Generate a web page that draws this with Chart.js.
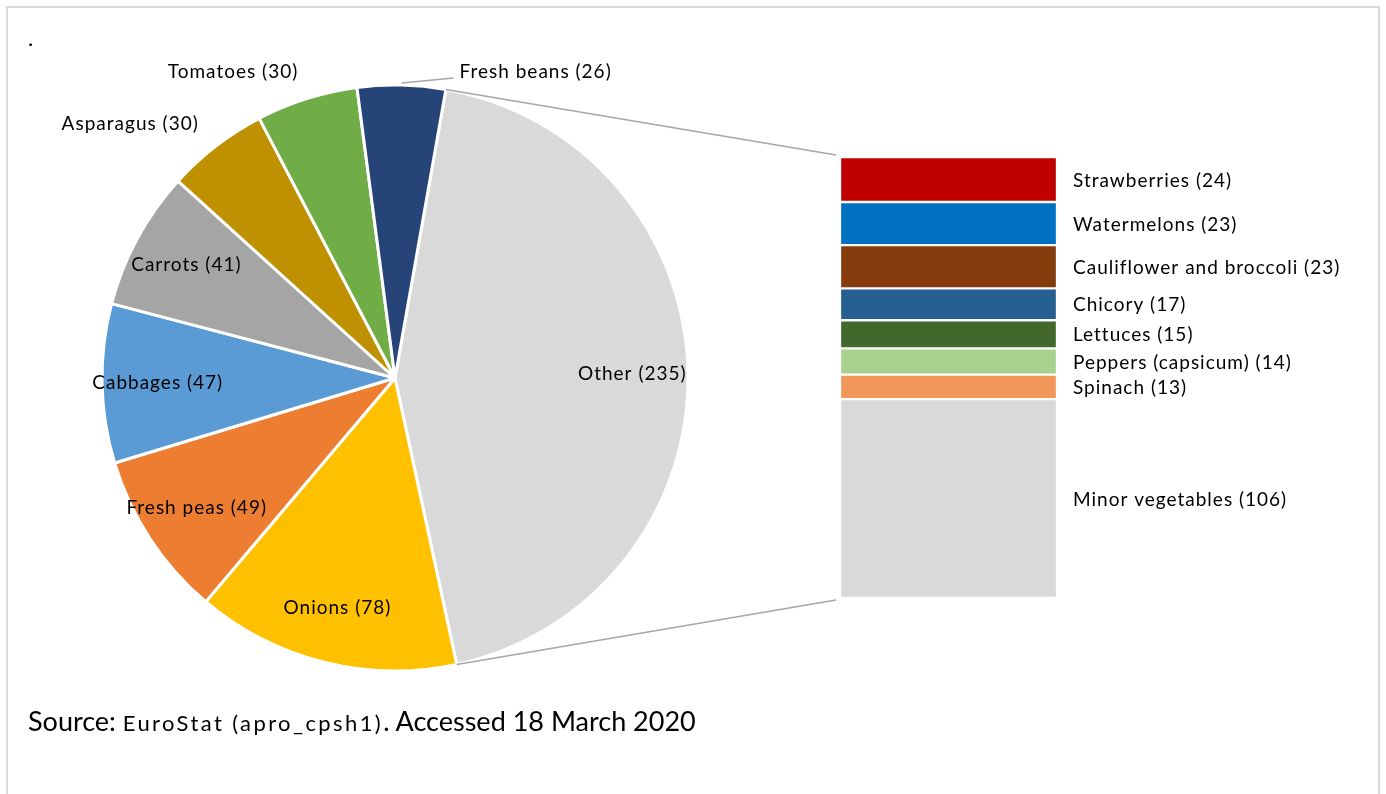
<!DOCTYPE html>
<html>
<head>
<meta charset="utf-8">
<script src="https://cdn.jsdelivr.net/npm/chart.js@4.4.0/dist/chart.umd.min.js"></script>
<style>
  body { margin: 0; background: #fff; font-family: Lato, sans-serif; }
  #wrap { position: relative; width: 1386px; height: 794px; overflow: hidden; }
  #frame { position: absolute; left: 6px; top: 6px; width: 1374px; height: 820px; border: 2px solid #d9d9d9; box-sizing: border-box; }
  canvas { position: absolute; left: 0; top: 0; }
  #dot { position: absolute; left: 28px; top: 24px; font-size: 22px; color: #000; }
  #source { position: absolute; left: 28px; top: 704px; font-size: 27px; color: #000; white-space: nowrap; }
  #source .small { font-size: 22px; letter-spacing: 2.4px; }
</style>
</head>
<body>
<div id="wrap">
  <div id="frame"></div>
  <canvas id="pie" width="1386" height="794"></canvas>
  <canvas id="bar" width="1386" height="794"></canvas>
  <div id="dot">.</div>
  <div id="source">Source: <span class="small">EuroStat (apro_cpsh1)</span>. Accessed 18 March 2020</div>
</div>
<script>
// pie, clockwise from the top
const pieLabels = ["Other", "Onions", "Fresh peas", "Cabbages", "Carrots", "Asparagus", "Tomatoes", "Fresh beans"];
const pieValues = [235, 78, 49, 47, 41, 30, 30, 26];
const pieColors = ["#d9d9d9", "#ffc000", "#ed7d31", "#5b9bd5", "#a5a5a5", "#bf9000", "#70ad47", "#264478"];
const labelPlace = ["inside", "inside", "inside", "inside", "inside", "outside", "outside", "leader"];

// breakdown of "Other", bottom to top
const barLabels = ["Minor vegetables", "Spinach", "Peppers (capsicum)", "Lettuces", "Chicory", "Cauliflower and broccoli", "Watermelons", "Strawberries"];
const barValues = [106, 13, 14, 15, 17, 23, 23, 24];
const barColors = ["#d9d9d9", "#f1975a", "#a9d18e", "#43682b", "#255e91", "#843c0c", "#0070c0", "#c00000"];

const labelFont = "19px Lato";

function setLabelFont(ctx) {
  ctx.font = labelFont;
  ctx.letterSpacing = "1px";
  ctx.fillStyle = "#000";
}

const pieLabelPlugin = {
  id: "pieLabels",
  afterDatasetsDraw(chart) {
    const ctx = chart.ctx;
    const arcs = chart.getDatasetMeta(0).data;
    ctx.save();
    setLabelFont(ctx);
    arcs.forEach((arc, i) => {
      const p = arc.getProps(["x", "y", "startAngle", "endAngle", "outerRadius"], true);
      const mid = (p.startAngle + p.endAngle) / 2;
      const cos = Math.cos(mid), sin = Math.sin(mid);
      const text = pieLabels[i] + " (" + pieValues[i] + ")";
      if (labelPlace[i] === "inside") {
        const d = p.outerRadius * 0.81;
        ctx.textAlign = "center";
        ctx.textBaseline = "middle";
        ctx.fillText(text, p.x + cos * d, p.y + sin * d);
      } else if (labelPlace[i] === "outside") {
        const d = p.outerRadius + 28;
        ctx.textAlign = cos < 0 ? "right" : "left";
        ctx.textBaseline = "middle";
        ctx.fillText(text, p.x + cos * d, p.y + sin * d);
      } else {
        const sx = p.x + cos * (p.outerRadius + 2);
        const sy = p.y + sin * (p.outerRadius + 2);
        const ex = sx + 52, ey = sy - 5;
        ctx.strokeStyle = "#a6a6a6";
        ctx.lineWidth = 1.5;
        ctx.beginPath();
        ctx.moveTo(sx, sy);
        ctx.lineTo(ex, ey);
        ctx.stroke();
        ctx.textAlign = "left";
        ctx.textBaseline = "middle";
        ctx.fillText(text, ex + 6, ey - 6);
      }
    });
    ctx.restore();
  }
};

const pieChart = new Chart(document.getElementById("pie"), {
  type: "pie",
  data: {
    labels: pieLabels,
    datasets: [{
      data: pieValues,
      backgroundColor: pieColors,
      borderColor: "#fff",
      borderWidth: 3,
      radius: 293
    }]
  },
  options: {
    responsive: false,
    animation: false,
    rotation: 10,
    layout: { padding: { left: 50, right: 646, top: 60, bottom: 98 } },
    plugins: { legend: { display: false }, tooltip: { enabled: false } }
  },
  plugins: [pieLabelPlugin]
});

const barLabelPlugin = {
  id: "barLabels",
  afterDatasetsDraw(chart) {
    const ctx = chart.ctx;
    ctx.save();
    setLabelFont(ctx);
    ctx.textAlign = "left";
    ctx.textBaseline = "middle";
    chart.data.datasets.forEach((ds, i) => {
      const bar = chart.getDatasetMeta(i).data[0];
      const p = bar.getProps(["x", "y", "base", "width"], true);
      ctx.fillText(barLabels[i] + " (" + barValues[i] + ")", chart.chartArea.right + 16, (p.y + p.base) / 2 + 1);
    });
    ctx.restore();
  }
};

const connectorPlugin = {
  id: "connector",
  afterDatasetsDraw(chart) {
    const ctx = chart.ctx;
    const arc = pieChart.getDatasetMeta(0).data[0].getProps(["x", "y", "startAngle", "endAngle", "outerRadius"], true);
    const n = chart.data.datasets.length;
    const topBar = chart.getDatasetMeta(n - 1).data[0].getProps(["x", "y", "width"], true);
    const bottomBar = chart.getDatasetMeta(0).data[0].getProps(["x", "base", "width"], true);
    const r = arc.outerRadius;
    ctx.save();
    ctx.strokeStyle = "#a6a6a6";
    ctx.lineWidth = 1.5;
    ctx.beginPath();
    ctx.moveTo(arc.x + Math.cos(arc.startAngle) * r, arc.y + Math.sin(arc.startAngle) * r);
    ctx.lineTo(topBar.x - topBar.width / 2 - 4, topBar.y - 2);
    ctx.moveTo(arc.x + Math.cos(arc.endAngle) * r, arc.y + Math.sin(arc.endAngle) * r);
    ctx.lineTo(bottomBar.x - bottomBar.width / 2 - 4, bottomBar.base + 2);
    ctx.stroke();
    ctx.restore();
  }
};

const barTotal = barValues.reduce((a, b) => a + b, 0);

new Chart(document.getElementById("bar"), {
  type: "bar",
  data: {
    labels: [""],
    datasets: barLabels.map((l, i) => ({
      label: l,
      data: [barValues[i]],
      backgroundColor: barColors[i],
      borderColor: "#fff",
      borderWidth: 1.5,
      borderSkipped: false,
      barPercentage: 1,
      categoryPercentage: 1
    }))
  },
  options: {
    responsive: false,
    animation: false,
    layout: { padding: { left: 840, right: 329, top: 157, bottom: 196 } },
    scales: {
      x: { display: false, stacked: true },
      y: { display: false, stacked: true, min: 0, max: barTotal }
    },
    plugins: { legend: { display: false }, tooltip: { enabled: false } }
  },
  plugins: [barLabelPlugin, connectorPlugin]
});
</script>
</body>
</html>
